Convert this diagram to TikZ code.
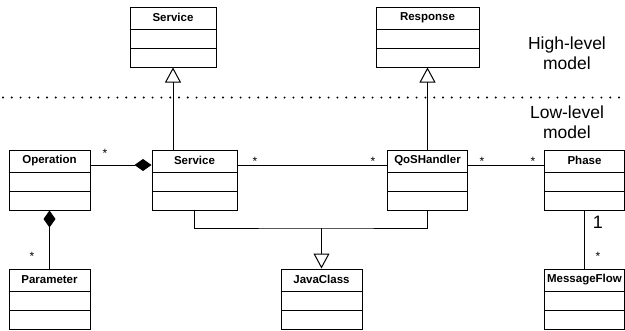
\documentclass[tikz,border=0pt]{standalone}
\usepackage{fontspec}
\setmainfont{Liberation Sans}
\usetikzlibrary{arrows.meta}
\tikzset{
  umlclass/.style={draw, line width=1pt, minimum height=60pt, inner sep=0pt,
    path picture={
      \draw[line width=1pt] ([yshift=-22pt]path picture bounding box.north west) -- ([yshift=-22pt]path picture bounding box.north east);
      \draw[line width=1pt] ([yshift=-41pt]path picture bounding box.north west) -- ([yshift=-41pt]path picture bounding box.north east);
    }},
  cname/.style={font=\fontsize{11.5}{13}\selectfont\bfseries, anchor=center},
  conn/.style={line width=1pt},
  mult/.style={font=\fontsize{12}{14}\selectfont, anchor=base, inner sep=0pt},
  levtext/.style={font=\fontsize{17.5}{20}\selectfont, align=center, inner sep=0pt},
  gen/.style={conn, -{Triangle[open, length=15pt, width=16pt, line width=1pt]}},
  comp/.style={conn, -{Diamond[length=17pt, width=12pt]}},
}
\newcommand{\umlbox}[5]{%
  \node[umlclass, minimum width=#4pt] (#1) at (#2,#3) {};
  \node[cname] at ([yshift=-11pt]#1.north) {#5};
}
\begin{document}
\begin{tikzpicture}[x=1pt, y=-1pt]
\useasboundingbox (0,0) rectangle (625,330);
% classes
\umlbox{hsvc}{173}{37}{86}{Service}
\umlbox{resp}{427.5}{37}{103}{Response}
\umlbox{op}{49.5}{180}{81}{Operation}
\umlbox{lsvc}{194.5}{180}{85}{Service}
\umlbox{qos}{427.5}{180}{80}{QoSHandler}
\umlbox{phase}{584.5}{180}{80}{Phase}
\umlbox{param}{49.5}{299}{81}{Parameter}
\umlbox{java}{321.5}{299}{81}{JavaClass}
\umlbox{mf}{584.5}{299}{80}{MessageFlow}
% level separator
\coordinate (dl) at (3,97.5);
\coordinate (dr) at (620,97.5);
\draw[line width=2.2pt, line cap=round, dash pattern=on 0pt off 8.8pt] (dl) -- (dr);
\node[levtext] (hl) at (567,53) {High-level\\model};
\node[levtext] (ll) at (567,122) {Low-level\\model};
% generalizations
\draw[gen] (lsvc.north -| hsvc.south) -- (hsvc.south);
\draw[gen] (qos.north) -- (resp.south);
\coordinate (jn) at (321.5,228);
\draw[conn] (lsvc.south) |- (jn) -| (qos.south);
\draw[gen] (jn) -- (java.north);
% associations
\draw[comp] ([yshift=15pt]op.east) -- ([yshift=15pt]lsvc.west);
\draw[comp] (param.north) -- (op.south);
\draw[conn] ([yshift=15pt]lsvc.east) -- ([yshift=15pt]qos.west);
\draw[conn] ([yshift=15pt]qos.east) -- ([yshift=15pt]phase.west);
\draw[conn] (phase.south) -- (mf.north);
% multiplicities
\node[mult] (m1) at (105,157) {*};
\node[mult] (m2) at (32,260) {*};
\node[mult] (m3) at (255,165) {*};
\node[mult] (m4) at (373,165) {*};
\node[mult] (m5) at (482,165) {*};
\node[mult] (m6) at (533,165) {*};
\node[mult, font=\fontsize{18}{20}\selectfont] (m7) at (598,228) {1};
\node[mult] (m8) at (598,260) {*};
\end{tikzpicture}
\end{document}
